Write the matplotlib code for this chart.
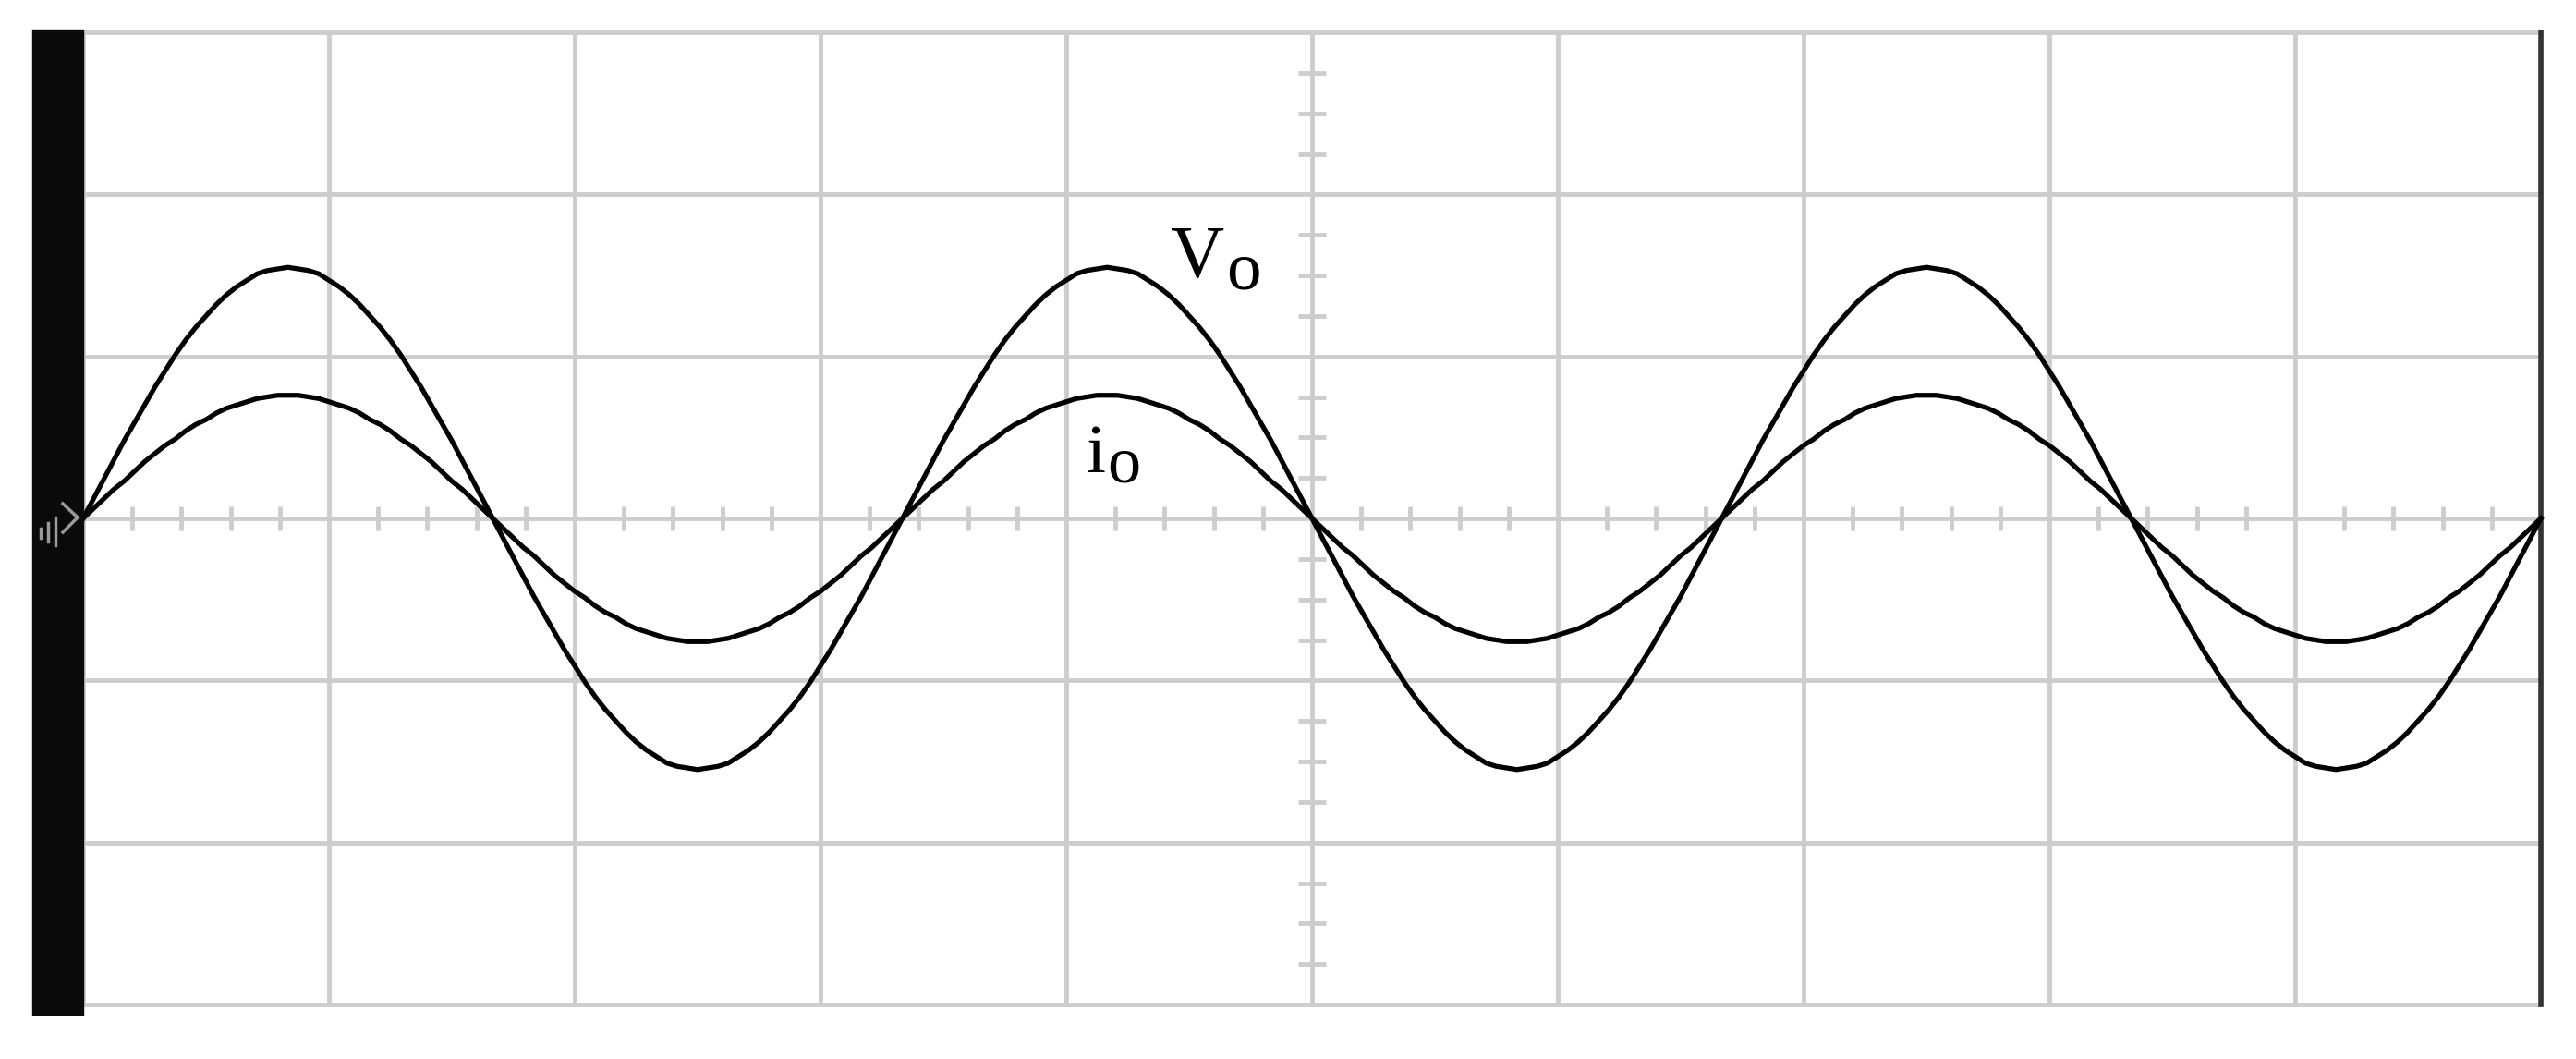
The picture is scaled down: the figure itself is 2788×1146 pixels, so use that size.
import numpy as np
import matplotlib.pyplot as plt
from matplotlib.patches import Rectangle
from matplotlib.lines import Line2D

# oscilloscope traces, values in screen divisions (sampled every 1/24 div)
vo = [
    0.00, 0.12, 0.24, 0.36, 0.48, 0.59, 0.70, 0.81, 0.91, 1.01, 1.10, 1.18, 1.25, 1.32, 1.38, 1.43, 1.47, 1.51, 1.53, 1.54,
    1.55, 1.54, 1.53, 1.51, 1.47, 1.43, 1.38, 1.32, 1.25, 1.18, 1.10, 1.01, 0.91, 0.81, 0.70, 0.59, 0.48, 0.36, 0.24, 0.12,
    0.00, -0.12, -0.24, -0.36, -0.48, -0.59, -0.70, -0.81, -0.91, -1.01, -1.10, -1.18, -1.25, -1.32, -1.38, -1.43, -1.47, -1.51, -1.53, -1.54,
    -1.55, -1.54, -1.53, -1.51, -1.47, -1.43, -1.38, -1.32, -1.25, -1.18, -1.10, -1.01, -0.91, -0.81, -0.70, -0.59, -0.48, -0.36, -0.24, -0.12,
    0.00, 0.12, 0.24, 0.36, 0.48, 0.59, 0.70, 0.81, 0.91, 1.01, 1.10, 1.18, 1.25, 1.32, 1.38, 1.43, 1.47, 1.51, 1.53, 1.54,
    1.55, 1.54, 1.53, 1.51, 1.47, 1.43, 1.38, 1.32, 1.25, 1.18, 1.10, 1.01, 0.91, 0.81, 0.70, 0.59, 0.48, 0.36, 0.24, 0.12,
    0.00, -0.12, -0.24, -0.36, -0.48, -0.59, -0.70, -0.81, -0.91, -1.01, -1.10, -1.18, -1.25, -1.32, -1.38, -1.43, -1.47, -1.51, -1.53, -1.54,
    -1.55, -1.54, -1.53, -1.51, -1.47, -1.43, -1.38, -1.32, -1.25, -1.18, -1.10, -1.01, -0.91, -0.81, -0.70, -0.59, -0.48, -0.36, -0.24, -0.12,
    0.00, 0.12, 0.24, 0.36, 0.48, 0.59, 0.70, 0.81, 0.91, 1.01, 1.10, 1.18, 1.25, 1.32, 1.38, 1.43, 1.47, 1.51, 1.53, 1.54,
    1.55, 1.54, 1.53, 1.51, 1.47, 1.43, 1.38, 1.32, 1.25, 1.18, 1.10, 1.01, 0.91, 0.81, 0.70, 0.59, 0.48, 0.36, 0.24, 0.12,
    0.00, -0.12, -0.24, -0.36, -0.48, -0.59, -0.70, -0.81, -0.91, -1.01, -1.10, -1.18, -1.25, -1.32, -1.38, -1.43, -1.47, -1.51, -1.53, -1.54,
    -1.55, -1.54, -1.53, -1.51, -1.47, -1.43, -1.38, -1.32, -1.25, -1.18, -1.10, -1.01, -0.91, -0.81, -0.70, -0.59, -0.48, -0.36, -0.24, -0.12,
    0.00,
]
io = [
    0.00, 0.06, 0.12, 0.18, 0.23, 0.29, 0.35, 0.40, 0.45, 0.49, 0.54, 0.58, 0.61, 0.65, 0.68, 0.70, 0.72, 0.74, 0.75, 0.76,
    0.76, 0.76, 0.75, 0.74, 0.72, 0.70, 0.68, 0.65, 0.61, 0.58, 0.54, 0.49, 0.45, 0.40, 0.35, 0.29, 0.23, 0.18, 0.12, 0.06,
    0.00, -0.06, -0.12, -0.18, -0.23, -0.29, -0.35, -0.40, -0.45, -0.49, -0.54, -0.58, -0.61, -0.65, -0.68, -0.70, -0.72, -0.74, -0.75, -0.76,
    -0.76, -0.76, -0.75, -0.74, -0.72, -0.70, -0.68, -0.65, -0.61, -0.58, -0.54, -0.49, -0.45, -0.40, -0.35, -0.29, -0.23, -0.18, -0.12, -0.06,
    0.00, 0.06, 0.12, 0.18, 0.23, 0.29, 0.35, 0.40, 0.45, 0.49, 0.54, 0.58, 0.61, 0.65, 0.68, 0.70, 0.72, 0.74, 0.75, 0.76,
    0.76, 0.76, 0.75, 0.74, 0.72, 0.70, 0.68, 0.65, 0.61, 0.58, 0.54, 0.49, 0.45, 0.40, 0.35, 0.29, 0.23, 0.18, 0.12, 0.06,
    0.00, -0.06, -0.12, -0.18, -0.23, -0.29, -0.35, -0.40, -0.45, -0.49, -0.54, -0.58, -0.61, -0.65, -0.68, -0.70, -0.72, -0.74, -0.75, -0.76,
    -0.76, -0.76, -0.75, -0.74, -0.72, -0.70, -0.68, -0.65, -0.61, -0.58, -0.54, -0.49, -0.45, -0.40, -0.35, -0.29, -0.23, -0.18, -0.12, -0.06,
    0.00, 0.06, 0.12, 0.18, 0.23, 0.29, 0.35, 0.40, 0.45, 0.49, 0.54, 0.58, 0.61, 0.65, 0.68, 0.70, 0.72, 0.74, 0.75, 0.76,
    0.76, 0.76, 0.75, 0.74, 0.72, 0.70, 0.68, 0.65, 0.61, 0.58, 0.54, 0.49, 0.45, 0.40, 0.35, 0.29, 0.23, 0.18, 0.12, 0.06,
    0.00, -0.06, -0.12, -0.18, -0.23, -0.29, -0.35, -0.40, -0.45, -0.49, -0.54, -0.58, -0.61, -0.65, -0.68, -0.70, -0.72, -0.74, -0.75, -0.76,
    -0.76, -0.76, -0.75, -0.74, -0.72, -0.70, -0.68, -0.65, -0.61, -0.58, -0.54, -0.49, -0.45, -0.40, -0.35, -0.29, -0.23, -0.18, -0.12, -0.06,
    0.00,
]
t = np.linspace(0, 10, len(vo))

gridc = "#cdcdcd"
W, H = 2788, 1146
fig = plt.figure(figsize=(W / 100, H / 100), dpi=100)
ax = fig.add_axes([90 / W, (H - 1087) / H, (2750 - 90) / W, (1087 - 35) / H])
ax.set_xlim(0, 10)
ax.set_ylim(-3, 3)
ax.axis("off")

# graticule
for x in range(11):
    ax.axvline(x, color=gridc, lw=3.5, clip_on=False, zorder=1)
for y in range(-3, 4):
    ax.axhline(y, color=gridc, lw=3.5, clip_on=False, zorder=1)
for x in np.arange(0, 10.01, 0.2):
    if abs(x - round(x)) > 1e-6:
        ax.plot([x, x], [-0.075, 0.075], color=gridc, lw=3.5, solid_capstyle="butt", zorder=1)
for y in np.arange(-3, 3.01, 0.25):
    if abs(y - round(y)) > 1e-6:
        ax.plot([4.945, 5.055], [y, y], color=gridc, lw=3.5, solid_capstyle="butt", zorder=1)

ax.axvline(10, color="#333333", lw=4, clip_on=False, zorder=2)

ax.plot(t, vo, color="black", lw=3.8, zorder=3, clip_on=False)
ax.plot(t, io, color="black", lw=3.8, zorder=3, clip_on=False)

serif = ["Liberation Serif", "DejaVu Serif"]
ax.text(4.42, 1.486, "V", fontsize=58, family=serif, ha="left", va="baseline")
ax.text(4.65, 1.415, "o", fontsize=54, family=serif, ha="left", va="baseline")
ax.text(4.08, 0.286, "i", fontsize=54, family=serif, ha="left", va="baseline")
ax.text(4.165, 0.225, "o", fontsize=52, family=serif, ha="left", va="baseline")

# black strip on the left edge of the screen
fig.add_artist(Rectangle((35 / W, (H - 1098) / H), 55 / W, 1066 / H,
                         transform=fig.transFigure, color="#0a0a0a", zorder=5))
# little ground marker on the strip
def px(xp, yp):
    return xp / W, (H - yp) / H
for (x0, y0), (x1, y1) in [((68, 545), (84, 560)), ((84, 560), (68, 576)),
                           ((60, 560), (60, 590)), ((52, 566), (52, 586)),
                           ((44, 572), (44, 582))]:
    a, b = px(x0, y0)
    c, d = px(x1, y1)
    fig.add_artist(Line2D([a, c], [b, d], transform=fig.transFigure,
                          color="#9a9a9a", lw=2.5, zorder=6))

fig.savefig("out.png", dpi=100, facecolor="white")
